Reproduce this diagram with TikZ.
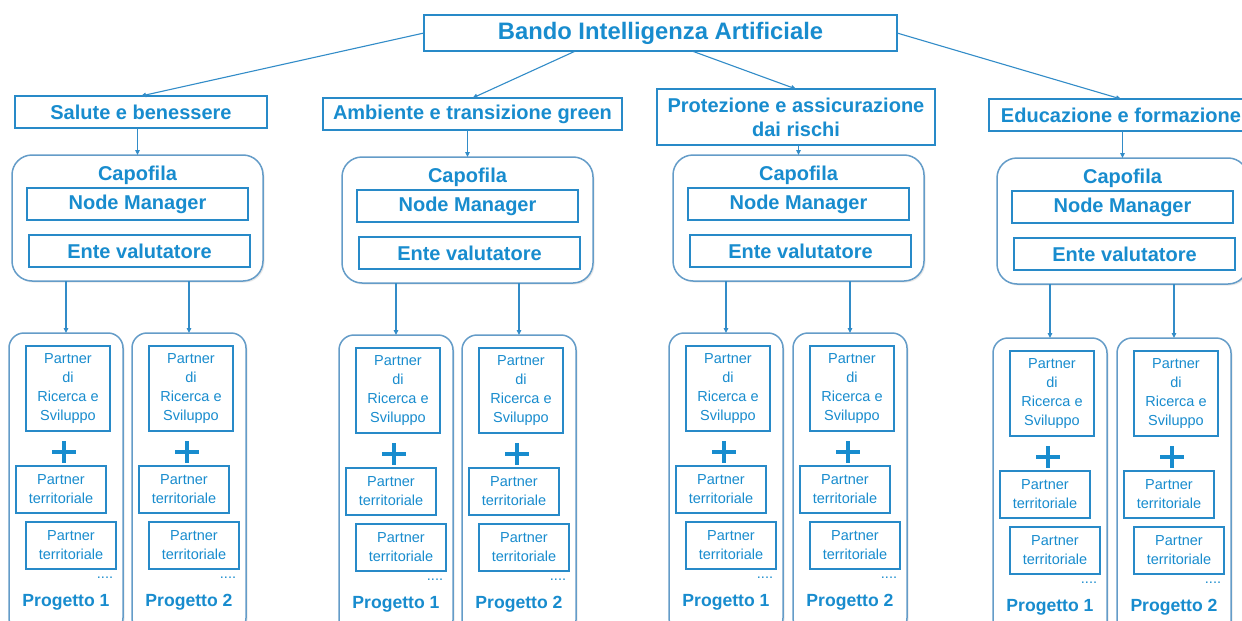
\documentclass[tikz,border=0pt]{standalone}
\usepackage{fontspec}
\setmainfont{Liberation Sans}
\usetikzlibrary{arrows.meta,shadows}
\definecolor{tblue}{RGB}{24,140,206}
\definecolor{bblue}{RGB}{40,138,200}
\definecolor{cblue}{RGB}{100,156,200}
\definecolor{lblue}{RGB}{50,140,200}
\tikzset{
 every node/.style={inner sep=0pt, outer sep=0pt},
 topbox/.style={draw=bblue, line width=1.6pt, text=tblue, font=\bfseries\fontsize{23.8}{28}\selectfont, minimum width=473pt, minimum height=36pt},
 catbox/.style={draw=bblue, line width=1.8pt, text=tblue, font=\bfseries\fontsize{20}{24}\selectfont, align=center},
 capbox/.style={draw=cblue, line width=1.5pt, rounded corners=20pt, minimum width=251pt, minimum height=126pt, fill=white, drop shadow={opacity=0.18, shadow xshift=1.5pt, shadow yshift=-1.5pt}},
 rolebox/.style={draw=bblue, line width=1.8pt, text=tblue, font=\bfseries\fontsize{20}{24}\selectfont, minimum width=221pt, minimum height=32pt},
 captxt/.style={text=tblue, font=\bfseries\fontsize{20}{24}\selectfont},
 projbox/.style={draw=cblue, line width=1.5pt, rounded corners=15pt, minimum width=114pt, minimum height=300pt, fill=white, drop shadow={opacity=0.18, shadow xshift=1.5pt, shadow yshift=-1.5pt}},
 pbox/.style={draw=bblue, line width=1.5pt, text=tblue, font=\fontsize{14.5}{19}\selectfont, align=center},
 plussign/.style={draw=tblue, line width=4.5pt},
 dotstxt/.style={text=tblue, font=\fontsize{14.5}{16}\selectfont, anchor=base},
 progtxt/.style={text=tblue, font=\bfseries\fontsize{17.6}{20}\selectfont},
 arr/.style={draw=lblue, line width=1.1pt, -{Triangle[length=5pt,width=4.5pt]}},
}
\newcommand\capunit[3]{%
 \node[capbox] (#1) at (#2+125.5,#3+63) {};
 \node[captxt] (#1t) at (#2+125.5,#3+20) {Capofila};
 \node[rolebox] (#1m) at (#2+125.5,#3+49) {Node Manager};
 \node[rolebox] (#1e) at (#2+127.5,#3+96) {Ente valutatore};
}
\newcommand\projunit[4]{%
 \node[projbox] (#1) at (#2+57,#3+150) {};
 \node[pbox, minimum width=84pt, minimum height=85pt] (#1r) at (#2+59,#3+55.5) {Partner\\di\\Ricerca e\\Sviluppo};
 \draw[plussign] (#2+43,#3+119) -- (#2+67,#3+119);
 \draw[plussign] (#2+55,#3+108) -- (#2+55,#3+130);
 \node[pbox, minimum width=90pt, minimum height=47pt] (#1a) at (#2+52,#3+156.5) {Partner\\territoriale};
 \node[pbox, minimum width=90pt, minimum height=47pt] (#1b) at (#2+62,#3+212.5) {Partner\\territoriale};
 \node[dotstxt] (#1d) at (#2+96,#3+245.5) {....};
 \node[progtxt] (#1p) at (#2+57,#3+269) {Progetto #4};
}
\begin{document}
\begin{tikzpicture}[x=1pt,y=-1pt]
\useasboundingbox (0,0) rectangle (1242,621);
\fill[white] (0,0) rectangle (1242,621);
\clip (0,0) rectangle (1242,621);
% top
\node[topbox] (top) at (660.5,33) {Bando Intelligenza Artificiale};
% categories
\node[catbox, minimum width=252pt, minimum height=32pt] (c1) at (141,112) {Salute e benessere};
\node[catbox, minimum width=299pt, minimum height=32pt] (c2) at (472.5,114) {Ambiente e transizione green};
\node[catbox, minimum width=278pt, minimum height=56pt] (c3) at (796,117) {Protezione e assicurazione\\dai rischi};
\node[catbox, minimum width=264pt, minimum height=32pt] (c4) at (1121,115) {Educazione e formazione};
% capofila
\capunit{k1}{12}{155}
\capunit{k2}{342}{157}
\capunit{k3}{673}{155}
\capunit{k4}{997}{158}
% projects
\projunit{p11}{9}{333}{1}
\projunit{p12}{132}{333}{2}
\projunit{p21}{339}{335}{1}
\projunit{p22}{462}{335}{2}
\projunit{p31}{669}{333}{1}
\projunit{p32}{793}{333}{2}
\projunit{p41}{993}{338}{1}
\projunit{p42}{1117}{338}{2}
% connectors
\draw[arr] (top.west) -- (c1.north);
\draw[arr] ([xshift=-85pt]top.south) -- (c2.north);
\draw[arr] ([xshift=31.5pt]top.south) -- (c3.north);
\draw[arr] (top.east) -- (c4.north);
\foreach \i in {1,2,3,4}{
 \draw[arr] (c\i.south -| k\i.north) -- (k\i.north);
 \draw[arr] (k\i.south -| p\i1.north) -- (p\i1.north);
 \draw[arr] (k\i.south -| p\i2.north) -- (p\i2.north);
}
\end{tikzpicture}
\end{document}
